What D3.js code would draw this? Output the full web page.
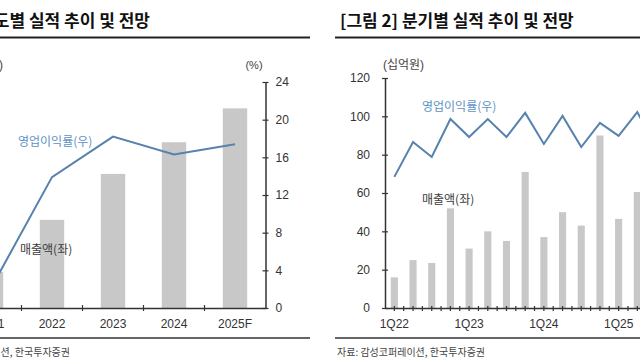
<!DOCTYPE html>
<html><head><meta charset="utf-8">
<script src="https://cdn.jsdelivr.net/npm/d3@7"></script>
<style>
body{margin:0;background:#fff;overflow:hidden}
svg{display:block;font-family:"Liberation Sans","Noto Sans CJK KR",Arial,sans-serif}
</style>
</head><body>
<svg id="c" width="640" height="360"></svg>
<script>
// ---- Data: annual (left panel) ----
const years = ["2021", "2022", "2023", "2024", "2025F"];
const annualSales = [48, 117, 178, 220, 265];          // 십억원 (left axis, outside the picture)
const annualMargin = [2.1, 13.9, 18.2, 16.3, 17.4];    // % (right axis)
const marginTicksL = [0, 4, 8, 12, 16, 20, 24];

// ---- Data: quarterly (right panel) ----
const quarters = ["1Q22","2Q22","3Q22","4Q22","1Q23","2Q23","3Q23","4Q23",
                  "1Q24","2Q24","3Q24","4Q24","1Q25","2Q25","3Q25","4Q25"];
const quarterSales = [16, 25, 23.5, 52, 31, 40, 35, 71, 37, 50, 43, 90, 46.5, 60.5, 55, 103];
const quarterMargin = [4.2, 13.3, 9.4, 19.3, 14.6, 19.3, 14.6, 20.9, 12.8, 20.1, 12.0, 18.3, 14.9, 21.1, 12.0, 19.0];
const quarterTickLabels = ["1Q22", "1Q23", "1Q24", "1Q25"];
const salesTicksR = [0, 20, 40, 60, 80, 100, 120];

const svg = d3.select("#c");
const axisColor = "#333";
const barColor = "#c8c8c8";
const lineColor = "#5682ad";
const labelBlue = "#5c93c6";
const kr = "'Noto Sans CJK KR',sans-serif";

// ---- Titles & rules ----
svg.append("text").attr("x", 150).attr("y", 27).attr("text-anchor", "end")
  .attr("font-size", 17).attr("font-weight", "bold").attr("fill", "#111")
  .attr("font-family", kr).text("[그림 1] 연도별 실적 추이 및 전망");
svg.append("text").attr("x", 340).attr("y", 27)
  .attr("font-size", 17).attr("font-weight", "bold").attr("fill", "#111")
  .attr("font-family", kr).text("[그림 2] 분기별 실적 추이 및 전망");
[[0, 310], [335, 640]].forEach(([a, b]) => {
  svg.append("line").attr("x1", a).attr("x2", b).attr("y1", 37.5).attr("y2", 37.5)
    .attr("stroke", "#222").attr("stroke-width", 2);
  svg.append("line").attr("x1", a).attr("x2", b).attr("y1", 338).attr("y2", 338)
    .attr("stroke", "#333").attr("stroke-width", 1.5);
});
svg.append("text").attr("x", 70).attr("y", 356).attr("text-anchor", "end")
  .attr("font-size", 10).attr("fill", "#444").attr("font-family", kr)
  .text("자료: 감성코퍼레이션, 한국투자증권");
svg.append("text").attr("x", 337).attr("y", 356)
  .attr("font-size", 10).attr("fill", "#444").attr("font-family", kr)
  .text("자료: 감성코퍼레이션, 한국투자증권");

// ================= LEFT PANEL =================
const gL = svg.append("g");
const xL = d3.scaleBand().domain(years).range([-39.5, 265.5]).padding(0);
const ySalesL = d3.scaleLinear().domain([0, 300]).range([308, 82]);
const yMarginL = d3.scaleLinear().domain([0, 24]).range([308, 82]);
const bwL = xL.bandwidth();

gL.selectAll("rect.bar").data(years).join("rect")
  .attr("x", d => xL(d) + bwL * 0.3)
  .attr("width", bwL * 0.4)
  .attr("y", (d, i) => ySalesL(annualSales[i]))
  .attr("height", (d, i) => ySalesL(0) - ySalesL(annualSales[i]))
  .attr("fill", barColor);

gL.append("text").attr("x", 3).attr("y", 69).attr("text-anchor", "end")
  .attr("font-size", 12).attr("fill", "#444").text("(십억원)");

// x axis
const axBL = gL.append("g").attr("transform", "translate(0,308)")
  .call(d3.axisBottom(xL).tickSize(0).tickPadding(11));
axBL.select(".domain").attr("stroke", axisColor).attr("stroke-width", 1.5);
axBL.selectAll("text").attr("font-size", 12).attr("fill", "#333");
gL.selectAll("line.xtick").data(years.slice(1)).join("line")
  .attr("x1", d => xL(d)).attr("x2", d => xL(d))
  .attr("y1", 305).attr("y2", 311)
  .attr("stroke", axisColor).attr("stroke-width", 1.2);

// right (%) axis
const axRL = gL.append("g").attr("transform", `translate(${xL.range()[1]},0)`)
  .call(d3.axisRight(yMarginL).tickValues(marginTicksL).tickSize(3).tickSizeOuter(0).tickPadding(7));
axRL.select(".domain").attr("stroke", axisColor).attr("stroke-width", 1.5);
axRL.selectAll(".tick line").attr("x1", -3).attr("stroke", axisColor).attr("stroke-width", 1.2);
axRL.selectAll("text").attr("font-size", 12).attr("fill", "#333");
gL.append("text").attr("x", 254).attr("y", 69).attr("text-anchor", "middle")
  .attr("font-size", 11).attr("fill", "#444").text("(%)");

// margin line
const lineL = d3.line().x((d, i) => xL(years[i]) + bwL / 2).y(d => yMarginL(d));
gL.append("path").datum(annualMargin).attr("d", lineL)
  .attr("fill", "none").attr("stroke", lineColor).attr("stroke-width", 2);

gL.append("text").attr("x", 18).attr("y", 146).attr("font-size", 12)
  .attr("fill", labelBlue).attr("font-family", kr).text("영업이익률(우)");
gL.append("text").attr("x", 20).attr("y", 254).attr("font-size", 12)
  .attr("fill", "#3a3a3a").attr("font-family", kr).text("매출액(좌)");

// ================= RIGHT PANEL =================
const gR = svg.append("g");
const xR = d3.scaleBand().domain(quarters).range([385, 385 + 18.69 * quarters.length]).padding(0);
const ySalesR = d3.scaleLinear().domain([0, 120]).range([308, 78]);
const yMarginR = d3.scaleLinear().domain([-30, 30]).range([308, 78]);
const bwR = xR.bandwidth();

gR.selectAll("rect.bar").data(quarters).join("rect")
  .attr("x", d => xR(d) + bwR * 0.31)
  .attr("width", bwR * 0.38)
  .attr("y", (d, i) => ySalesR(quarterSales[i]))
  .attr("height", (d, i) => ySalesR(0) - ySalesR(quarterSales[i]))
  .attr("fill", barColor);

// x axis
const axBR = gR.append("g").attr("transform", "translate(0,308)")
  .call(d3.axisBottom(xR).tickValues(quarterTickLabels).tickSize(0).tickPadding(11));
axBR.select(".domain").attr("stroke", axisColor).attr("stroke-width", 1.5);
axBR.selectAll("text").attr("font-size", 12).attr("fill", "#333");
const halfTicks = [];
quarters.forEach(q => { halfTicks.push(xR(q) + bwR / 2); halfTicks.push(xR(q) + bwR); });
gR.selectAll("line.xtick").data(halfTicks).join("line")
  .attr("x1", d => d).attr("x2", d => d)
  .attr("y1", 306).attr("y2", 311)
  .attr("stroke", axisColor).attr("stroke-width", 1.2);

// left (sales) axis
const axLR = gR.append("g").attr("transform", "translate(385,0)")
  .call(d3.axisLeft(ySalesR).tickValues(salesTicksR).tickSize(3).tickSizeOuter(0).tickPadding(12));
axLR.select(".domain").attr("stroke", axisColor).attr("stroke-width", 1.5);
axLR.selectAll(".tick line").attr("x1", 3).attr("stroke", axisColor).attr("stroke-width", 1.2);
axLR.selectAll("text").attr("font-size", 12).attr("fill", "#333");
gR.append("text").attr("x", 383).attr("y", 69)
  .attr("font-size", 12).attr("fill", "#444").text("(십억원)");

// margin line
const lineR = d3.line().x((d, i) => xR(quarters[i]) + bwR / 2).y(d => yMarginR(d));
gR.append("path").datum(quarterMargin).attr("d", lineR)
  .attr("fill", "none").attr("stroke", lineColor).attr("stroke-width", 2);

gR.append("text").attr("x", 422).attr("y", 111).attr("font-size", 12)
  .attr("fill", labelBlue).attr("font-family", kr).text("영업이익률(우)");
gR.append("text").attr("x", 422).attr("y", 204).attr("font-size", 12)
  .attr("fill", "#3a3a3a").attr("font-family", kr).text("매출액(좌)");
</script>
</body></html>
